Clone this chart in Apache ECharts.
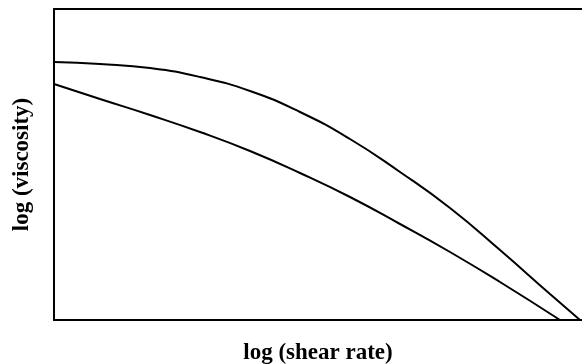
<!DOCTYPE html>
<html><head><meta charset="utf-8">
<script src="https://cdn.jsdelivr.net/npm/echarts@6/dist/echarts.min.js"></script>
<style>html,body{margin:0;padding:0;background:#fff}#c{width:582px;height:364px}</style>
</head><body><div id="c"></div>
<script>
var xTitle = 'log (shear rate)';
var yTitle = 'log (viscosity)';
var upperCurve = [[0,258],[46,256],[96,252],[146,243],[196,229],[246,208],[296,181],[346,148],[396,112],[446,70],[496,26],[526,0]];
var lowerCurve = [[0,236],[46,221],[96,205],[146,188],[196,169],[246,147],[296,123],[346,96],[396,68],[446,38],[506,0]];

var chart = echarts.init(document.getElementById('c'), null, {renderer:'canvas'});
var font = 'Liberation Serif, Times New Roman, serif';
chart.setOption({
  animation:false,
  backgroundColor:'#fff',
  grid:{left:54,right:0,top:9,bottom:44,outerBoundsMode:'none',containLabel:false},
  xAxis:[{
    type:'value',min:0,max:528,
    name:xTitle,nameLocation:'middle',nameGap:22,
    nameTextStyle:{fontFamily:font,fontWeight:'bold',fontSize:23,color:'#000',verticalAlign:'top'},
    axisLine:{show:true,lineStyle:{color:'#000',width:2}},
    axisTick:{show:false},axisLabel:{show:false},splitLine:{show:false}
  },{
    type:'value',min:0,max:528,position:'top',
    axisLine:{show:true,lineStyle:{color:'#000',width:2}},
    axisTick:{show:false},axisLabel:{show:false},splitLine:{show:false}
  }],
  yAxis:{
    type:'value',min:0,max:311,
    name:yTitle,nameLocation:'middle',nameGap:20,nameRotate:90,
    nameTextStyle:{fontFamily:font,fontWeight:'bold',fontSize:23,color:'#000'},
    axisLine:{show:true,lineStyle:{color:'#000',width:2}},
    axisTick:{show:false},axisLabel:{show:false},splitLine:{show:false}
  },
  series:[{
    type:'line',data:upperCurve,smooth:0.5,showSymbol:false,
    lineStyle:{color:'#000',width:2}
  },{
    type:'line',data:lowerCurve,smooth:0.5,showSymbol:false,
    lineStyle:{color:'#000',width:2}
  }]
});
</script></body></html>
